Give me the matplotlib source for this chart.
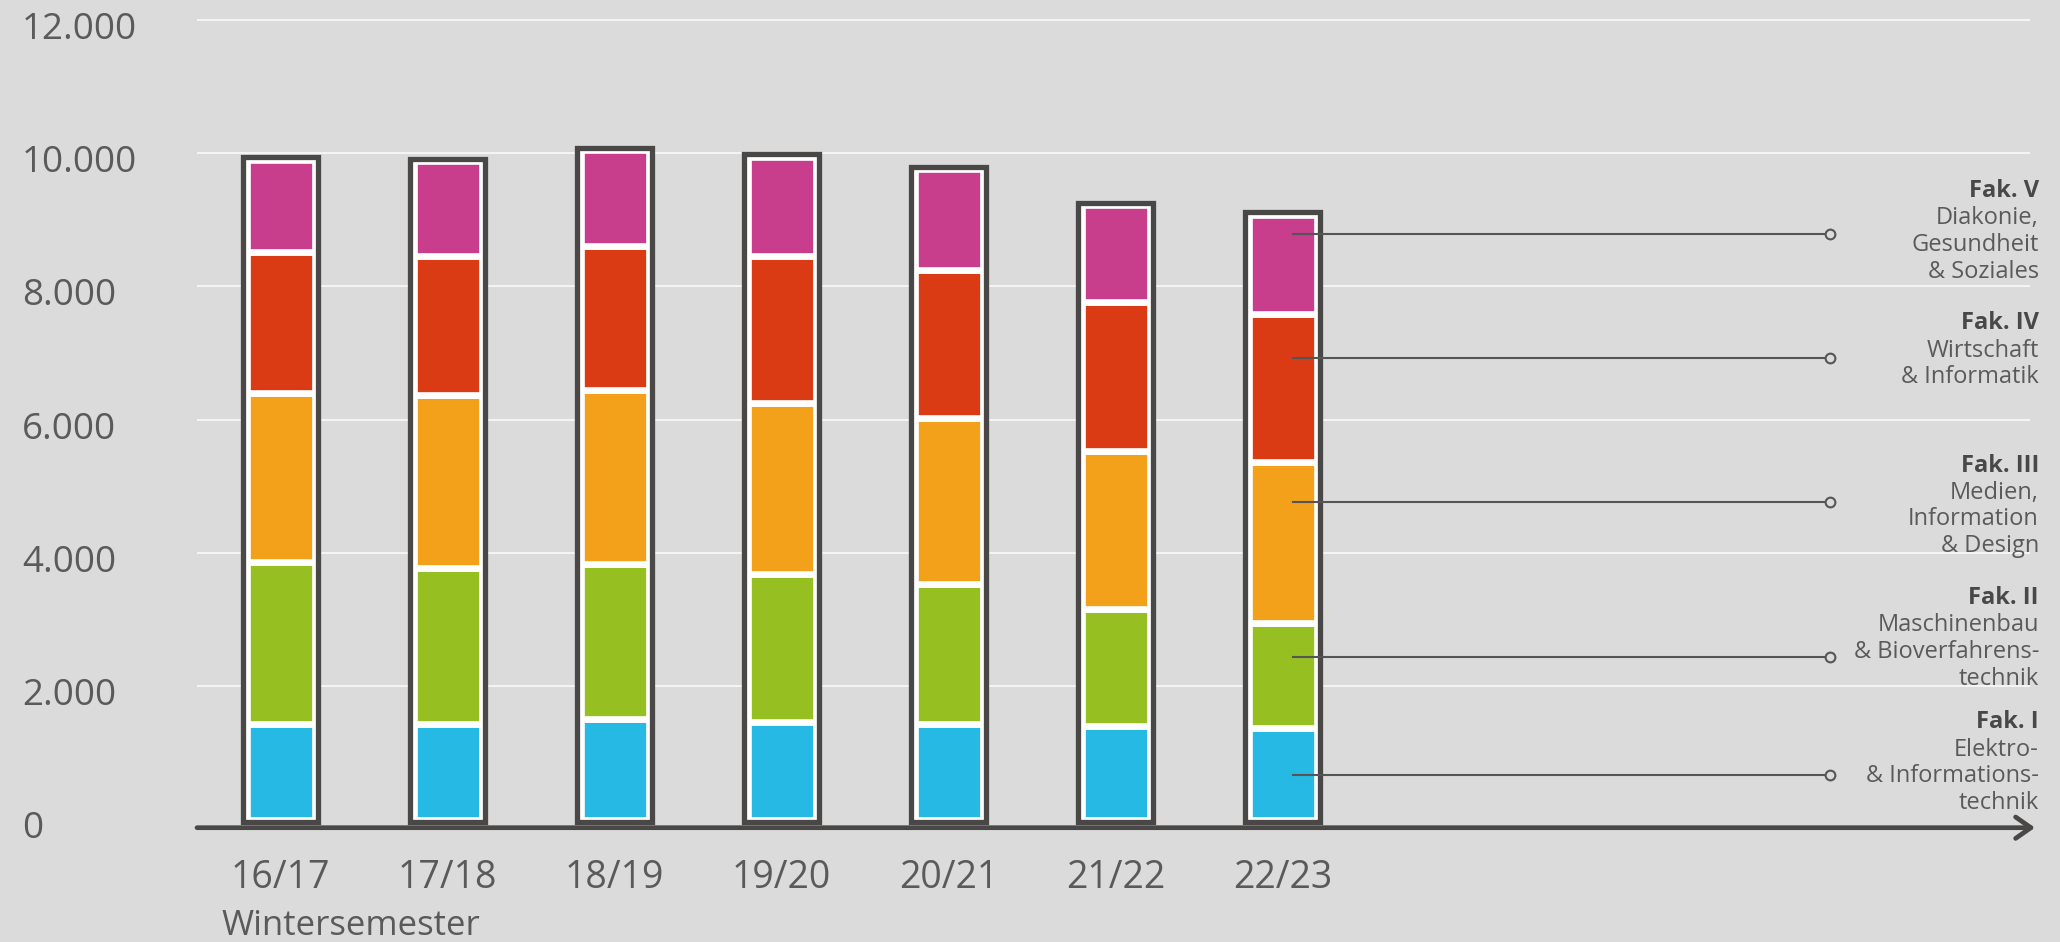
import matplotlib.pyplot as plt
from matplotlib.transforms import offset_copy

plt.rcParams['font.family'] = ['Open Sans', 'DejaVu Sans']

# student numbers per faculty, winter semesters
semesters = ['16/17', '17/18', '18/19', '19/20', '20/21', '21/22', '22/23']
fak_1 = [1437, 1428, 1503, 1470, 1437, 1403, 1368]
fak_2 = [2431, 2349, 2331, 2210, 2093, 1755, 1582]
fak_3 = [2538, 2589, 2609, 2575, 2493, 2378, 2414]
fak_4 = [2116, 2095, 2162, 2193, 2224, 2228, 2214]
fak_5 = [1372, 1412, 1436, 1493, 1506, 1454, 1492]

fak_titles = ['Fak. I', 'Fak. II', 'Fak. III', 'Fak. IV', 'Fak. V']
fak_names = [['Elektro-', '& Informations-', 'technik'],
             ['Maschinenbau', '& Bioverfahrens-', 'technik'],
             ['Medien,', 'Information', '& Design'],
             ['Wirtschaft', '& Informatik'],
             ['Diakonie,', 'Gesundheit', '& Soziales']]
colors = ['#25b9e4', '#96bf22', '#f3a11b', '#da3b15', '#c93e8c']
yticks = [0, 2000, 4000, 6000, 8000, 10000, 12000]

bg = '#dbdbdb'
frame_col = '#4a4747'
text_col = '#5a5a5a'

# pixel layout of the 2060x942 picture
W, H = 2060, 942
ZERO_PX = 819.5          # y pixel of value 0
PPU = 133.3 / 2000       # pixels per student
BAR0_PX = 280.7          # x pixel of the first bar
STEP_PX = 167.0          # distance between bars


def fx(px):
    return (px - BAR0_PX) / STEP_PX


def fy(py):
    return (ZERO_PX - py) / PPU


fig = plt.figure(figsize=(W / 100, H / 100), dpi=100, facecolor=bg)
ax = fig.add_axes([0, 0, 1, 1])
ax.set_facecolor(bg)
ax.set_xlim(fx(0), fx(W))
ax.set_ylim(fy(H), fy(0))
ax.axis('off')

# white grid lines
ax.hlines(yticks[1:], fx(197), fx(2030), color='white', lw=1.2, alpha=0.85, zorder=1)

# y labels (German thousands separator)
ylab_tr = offset_copy(ax.transData, fig=fig, y=-19, units='dots')
for v in yticks:
    ax.text(fx(22), v, f'{v:,}'.replace(',', '.'), transform=ylab_tr,
            ha='left', va='baseline', fontsize=26.5, color=text_col)

# stacked bars in a white box with dark frame
series = [fak_1, fak_2, fak_3, fak_4, fak_5]
x = list(range(len(semesters)))
totals = [sum(s[i] for s in series) for i in x]
pad = 2.6 / PPU
box_h = [t + 2 * pad for t in totals]
ax.bar(x, box_h, bottom=-pad, width=0.447, facecolor='white',
       edgecolor='none', zorder=2)
bottom = [0] * len(x)
for vals, c in zip(series, colors):
    ax.bar(x, vals, bottom=bottom, width=0.405, color=c,
           edgecolor='white', linewidth=4.8, zorder=3)
    bottom = [b + v for b, v in zip(bottom, vals)]
ax.bar(x, box_h, bottom=-pad, width=0.447, facecolor='none',
       edgecolor=frame_col, linewidth=3.8, zorder=4)

# x axis with arrow
ax.annotate('', xy=(fx(2035), fy(827.7)), xytext=(fx(197), fy(827.7)),
            arrowprops=dict(arrowstyle='->,head_length=0.5,head_width=0.35',
                            lw=3.4, color=frame_col, mutation_scale=22,
                            shrinkA=0, shrinkB=0), zorder=6)

xlab_tr = offset_copy(ax.transData, fig=fig, y=-68.8, units='dots')
for i, s in enumerate(semesters):
    ax.text(i, 0, s, transform=xlab_tr, ha='center', va='baseline',
            fontsize=27, color=text_col)
fig.text(221.7 / W, 1 - 935 / H, 'Wintersemester', ha='left', va='baseline',
         fontsize=25, color=text_col)

# leader lines from the last bar to the faculty labels
leader_px = [774.5, 656.6, 502.2, 357.8, 233.7]
title_px = [719.8, 595.6, 463.0, 320.8, 188.6]
for k in range(5):
    ly = fy(leader_px[k])
    ax.plot([x[-1] + 0.06, fx(1830)], [ly, ly], color='#555555', lw=1.5, zorder=5)
    ax.plot(fx(1830), ly, 'o', ms=7, mfc=bg, mec='#555555', mew=1.5, zorder=5)

    ty = title_px[k]
    fig.text(2039 / W, 1 - (ty + 8.5) / H, fak_titles[k], ha='right',
             va='baseline', fontsize=17, fontweight='bold', color='#484848')
    for j, line in enumerate(fak_names[k]):
        ly_px = ty + 27.2 + 26.6 * j
        fig.text(2039 / W, 1 - (ly_px + 8.5) / H, line, ha='right',
                 va='baseline', fontsize=17, color=text_col)

fig.savefig('out.png', dpi=100, facecolor=bg)
